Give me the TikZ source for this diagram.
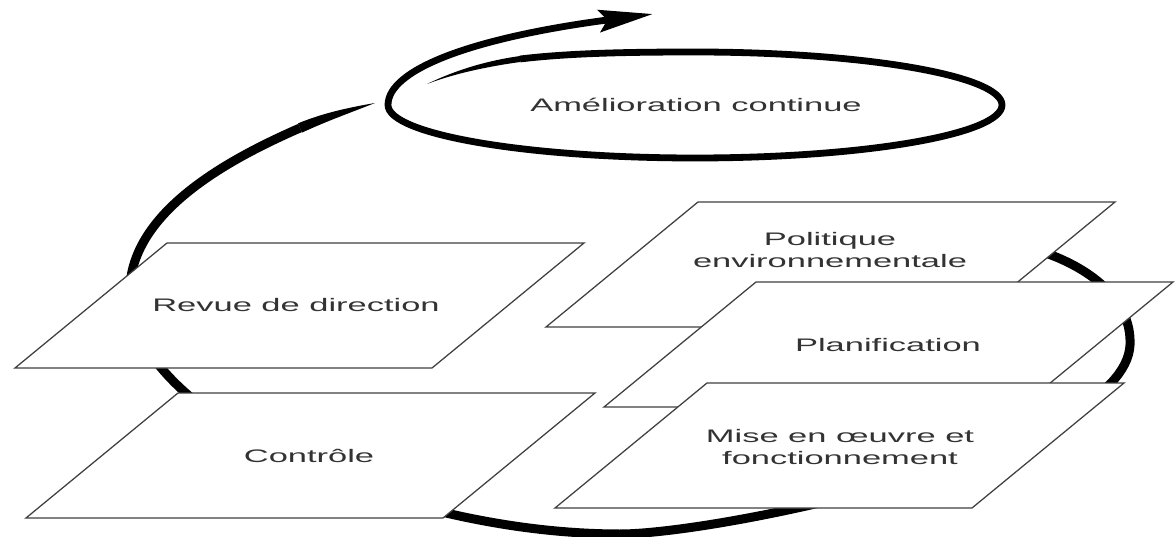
\documentclass[tikz,border=0pt]{standalone}
\usepackage{fontspec}
\newfontfamily\lblfont[FakeStretch=1.9]{Liberation Sans}
\usetikzlibrary{arrows.meta}

% plaque en parallelogramme : coin haut gauche
\newcommand\plaque[2]{\draw[etape] (#1,#2) -- ++(417,0) -- ++(-152,125) -- ++(-417,0) -- cycle;}

\begin{document}
\begin{tikzpicture}[x=0.025cm, y=-0.025cm,
  etape/.style={draw=black!75, line width=0.9pt, fill=white},
  boucle/.style={line width=0.225cm, line cap=butt},
  libelle/.style={font=\lblfont\fontsize{12.9}{15.6}\selectfont, text=black!80, align=center}]
	\useasboundingbox (0,0) rectangle (1175,537);

	% grande boucle
	\fill (375,103) .. controls (349,107.5) and (323,113) .. (298,123.4) -- (302,132.6) .. controls (327,121) and (351,112.5) .. cycle;
	\draw[boucle] (300,128) .. controls (215,165) and (124,220) .. (130,300)
		.. controls (139,420) and (400,534) .. (620,534)
		.. controls (720,534) and (1125,450) .. (1130,345)
		.. controls (1132,300) and (1090,265) .. (1030,248);

	% plaques
	\plaque{698}{202}
	\plaque{756}{282}
	\plaque{707}{383}
	\plaque{167}{243}
	\plaque{178}{393}

	% spirale de l'amelioration
	\fill (427,84) .. controls (455,70.5) and (485,61) .. (520,56) -- (520,62) .. controls (485,67) and (455,73.5) .. cycle;
	\draw[line width=0.17cm, -{Stealth[length=1.35cm, width=0.55cm, inset=0.2cm]}] (520,59) .. controls (570,53) and (630,52) .. (695,52)
		.. controls (864.5,52) and (1002,75.7) .. (1002,105)
		.. controls (1002,134.3) and (864.5,158) .. (695,158)
		.. controls (525.5,158) and (388,134.3) .. (388,105)
		.. controls (388,70) and (470,38) .. (653,14);

	% textes
	\node[libelle] (amelioration) at (696,105) {Amélioration continue};
	\node[libelle] (politique) at (830,250) {Politique\\environnementale};
	\node[libelle] (planification) at (888,345) {Planification};
	\node[libelle] (mise) at (840,447) {Mise en œuvre et\\fonctionnement};
	\node[libelle] (revue) at (296,305) {Revue de direction};
	\node[libelle] (controle) at (309,456) {Contrôle};
\end{tikzpicture}
\end{document}
